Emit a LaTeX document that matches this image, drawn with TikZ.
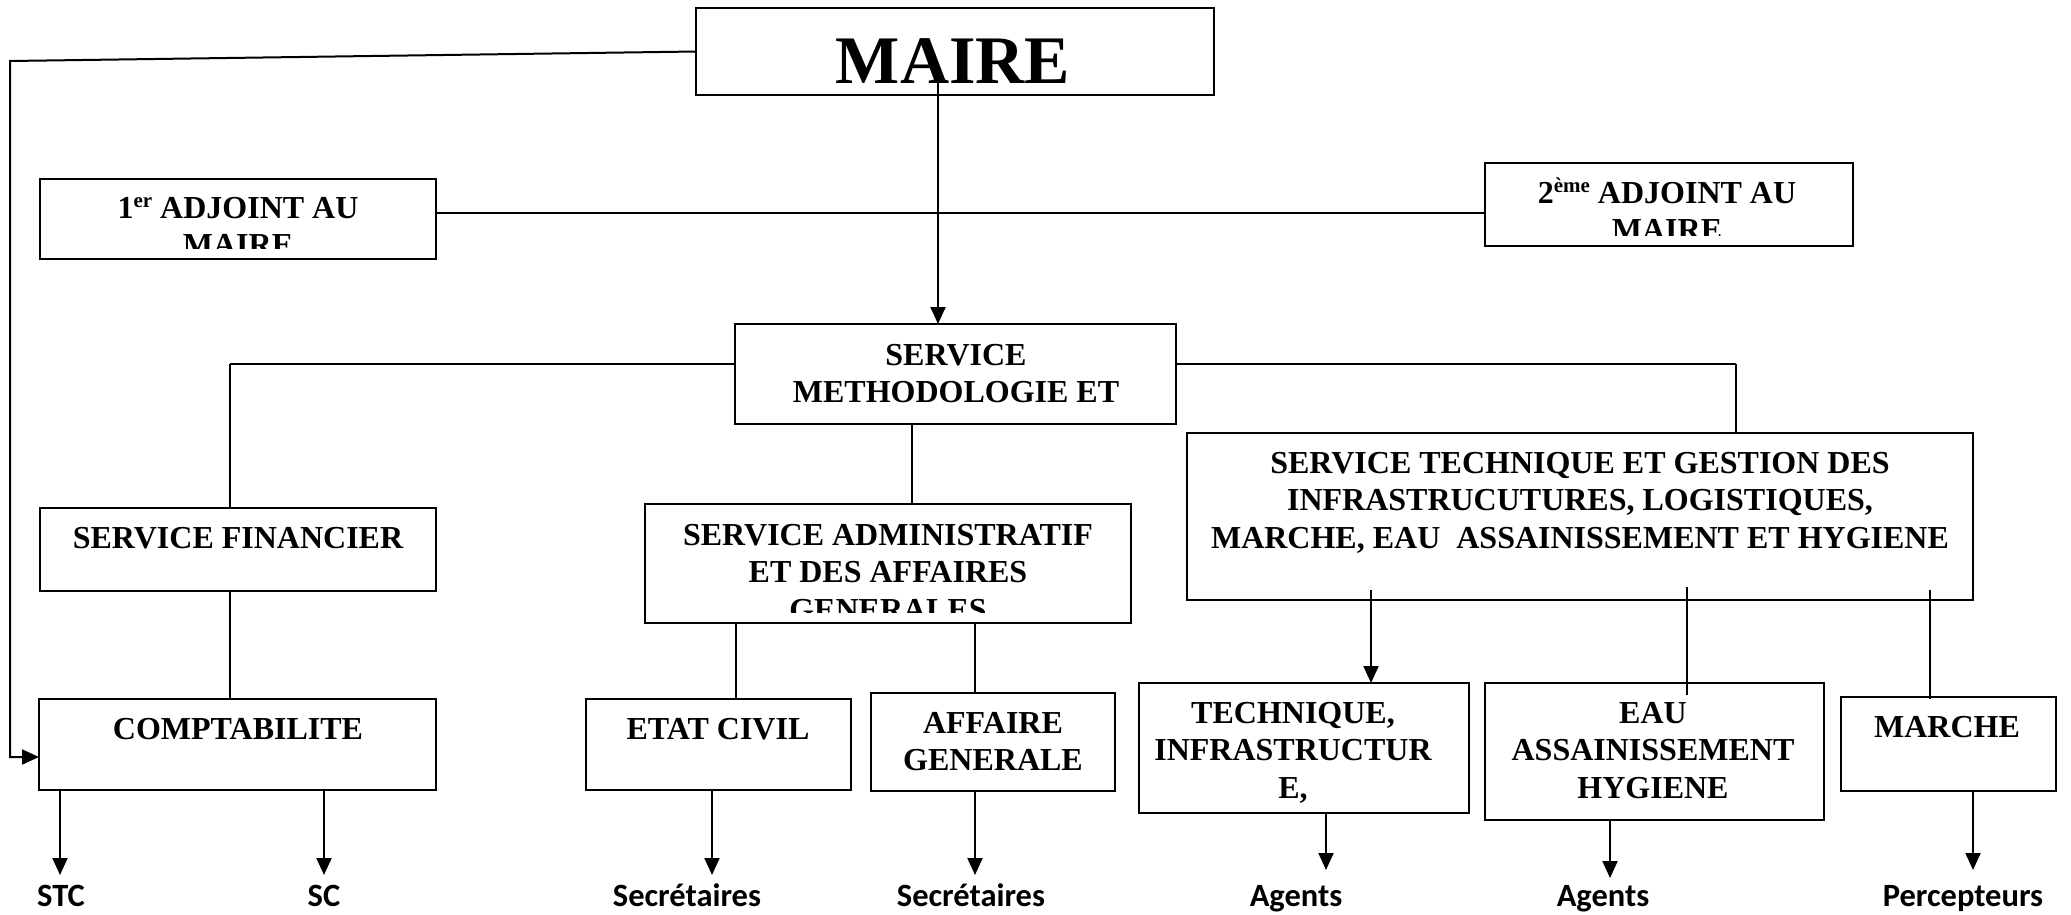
\documentclass[tikz,border=0pt]{standalone}
\usepackage{fontspec}
\setmainfont{Liberation Serif}
\newfontfamily\lblfont{Carlito}
\usetikzlibrary{arrows.meta}
\newcommand\fl{\rule{0pt}{30pt}}
\newcommand\sups[1]{\raisebox{10.5pt}{\fontsize{21}{21}\selectfont #1}}
\begin{document}
\begin{tikzpicture}[x=1pt,y=-1pt,
  box/.style={draw, line width=2.4pt, inner sep=0pt, outer sep=0pt, anchor=north west},
  txt/.style={font=\fontsize{32}{37.5}\selectfont\bfseries, align=center, anchor=north, inner sep=0pt},
  lbl/.style={font=\lblfont\bfseries\fontsize{32.5}{32.5}\selectfont, anchor=base, inner sep=0pt},
  conn/.style={line width=2pt},
  tconn/.style={line width=1.3pt},
  arr/.style={line width=2pt, -{Triangle[length=17pt,width=15pt]}}]
\useasboundingbox (0,0) rectangle (2071,914);
\fill[white] (0,0) rectangle (2071,914);

% boxes
\node[box, minimum width=518pt, minimum height=87pt] (maire) at (696,8) {};
\node[box, minimum width=396pt, minimum height=80pt] (adj1) at (40,179) {};
\node[box, minimum width=368pt, minimum height=83pt] (adj2) at (1485,163) {};
\node[box, minimum width=441pt, minimum height=100pt] (sm) at (735,324) {};
\node[box, minimum width=396pt, minimum height=83pt] (sf) at (40,508) {};
\node[box, minimum width=486pt, minimum height=119pt] (saag) at (645,504) {};
\node[box, minimum width=786pt, minimum height=167pt] (stg) at (1187,433) {};
\node[box, minimum width=397pt, minimum height=91pt] (compta) at (39,699) {};
\node[box, minimum width=265pt, minimum height=91pt] (etat) at (586,699) {};
\node[box, minimum width=244pt, minimum height=98pt] (ag) at (871,693) {};
\node[box, minimum width=330pt, minimum height=130pt] (tech) at (1139,683) {};
\node[box, minimum width=339pt, minimum height=137pt] (eau) at (1485,683) {};
\node[box, minimum width=215pt, minimum height=94pt] (marche) at (1841,697) {};

% texts
\node[font=\fontsize{68}{68}\selectfont\bfseries, anchor=base, inner sep=0pt] (tmaire) at (953,83) {MAIRE};
\begin{scope}
  \clip (40,179) rectangle (436,248);
  \node[txt] (tadj1) at (238,188) {\fl 1\sups{er} ADJOINT AU\\MAIRE};
\end{scope}
\begin{scope}
  \clip (1485,163) rectangle (1853,235);
  \node[txt] (tadj2) at (1667,173) {\fl 2\sups{ème} ADJOINT AU\\MAIRE};
\end{scope}
\node[txt] (tsm) at (956,335) {\fl SERVICE\\METHODOLOGIE ET};
\node[txt] (tsf) at (238,518) {\fl SERVICE FINANCIER};
\begin{scope}
  \clip (645,504) rectangle (1131,612);
  \node[txt] (tsaag) at (888,515) {\fl SERVICE ADMINISTRATIF\\ET DES AFFAIRES\\GENERALES};
\end{scope}
\node[txt] (tstg) at (1580,443) {\fl SERVICE TECHNIQUE ET GESTION DES\\INFRASTRUCUTURES, LOGISTIQUES,\\MARCHE, EAU\ \ ASSAINISSEMENT ET HYGIENE};
\node[txt] (tcompta) at (238,709) {\fl COMPTABILITE};
\node[txt] (tetat) at (718,709) {\fl ETAT CIVIL};
\node[txt] (tag) at (993,703) {\fl AFFAIRE\\GENERALE};
\node[txt] (ttech) at (1293,693) {\fl TECHNIQUE,\\INFRASTRUCTUR\\E,};
\node[txt] (teau) at (1653,693) {\fl EAU\\ASSAINISSEMENT\\HYGIENE};
\node[txt] (tmarche) at (1947,707) {\fl MARCHE};

% bottom labels
\node[lbl] (lstc) at (61,906) {STC};
\node[lbl] (lsc) at (324,906) {SC};
\node[lbl] (lsec1) at (687,906) {Secrétaires};
\node[lbl] (lsec2) at (971,906) {Secrétaires};
\node[lbl] (lag1) at (1296,906) {Agents};
\node[lbl] (lag2) at (1603,906) {Agents};
\node[lbl] (lperc) at (1963,906) {Percepteurs};

% coordinates
\coordinate (lm) at (10,61);
\coordinate (lc) at (10,757);
\coordinate (ms) at (938,83);
\coordinate (ay) at (0,213);
\coordinate (y1) at (0,364);
\coordinate (sl) at (230,364);
\coordinate (sr) at (1736,364);
\coordinate (sx) at (912,0);
\coordinate (ex) at (736,0);
\coordinate (gx) at (975,0);
\coordinate (t1) at (1371,590);
\coordinate (e1) at (1687,587);
\coordinate (e2) at (1687,695);
\coordinate (m1) at (1930,590);
\coordinate (m2) at (1930,699);
\coordinate (c1) at (60,875);
\coordinate (c2) at (324,875);
\coordinate (c3) at (712,875);
\coordinate (c4) at (975,875);
\coordinate (c5) at (1326,870);
\coordinate (c6) at (1610,878);
\coordinate (c7) at (1973,870);

% connectors
\draw[arr] (maire.west) -- (lm) -- (lc) -- (compta.west |- lc);
\draw[arr] (ms) -- (sm.north -| ms);
\draw[conn] (adj1.east |- ay) -- (adj2.west |- ay);
\draw[conn] (sm.west |- y1) -- (sl);
\draw[tconn] (sl) -- (sf.north -| sl);
\draw[conn] (sm.east |- y1) -- (sr);
\draw[tconn] (sr) -- (stg.north -| sr);
\draw[tconn] (sm.south -| sx) -- (saag.north -| sx);
\draw[tconn] (sf.south -| sl) -- (compta.north -| sl);
\draw[tconn] (saag.south -| ex) -- (etat.north -| ex);
\draw[tconn] (saag.south -| gx) -- (ag.north -| gx);
\draw[arr] (t1) -- (tech.north -| t1);
\draw[tconn] (e1) -- (e2);
\draw[tconn] (m1) -- (m2);

\draw[arr] (compta.south -| c1) -- (c1);
\draw[arr] (compta.south -| c2) -- (c2);
\draw[arr] (etat.south -| c3) -- (c3);
\draw[arr] (ag.south -| c4) -- (c4);
\draw[arr] (tech.south -| c5) -- (c5);
\draw[arr] (eau.south -| c6) -- (c6);
\draw[arr] (marche.south -| c7) -- (c7);
\end{tikzpicture}
\end{document}
